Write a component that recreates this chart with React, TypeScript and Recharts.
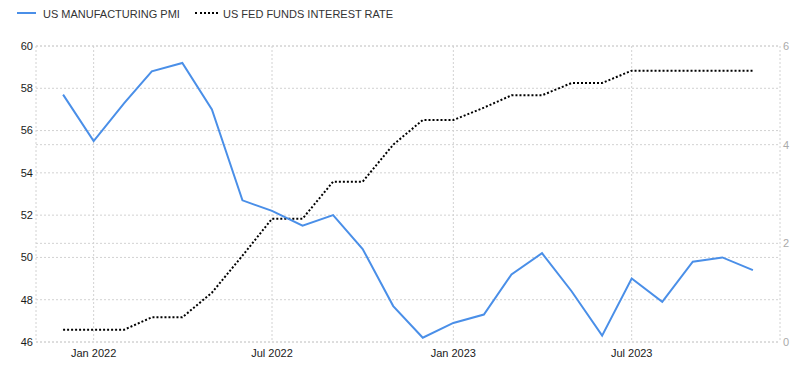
import React from "react";
import {
  ComposedChart,
  Line,
  XAxis,
  YAxis,
  CartesianGrid,
} from "recharts";

// Monthly observation dates (first of month), Dec 2021 .. Nov 2023
const months: [number, number][] = [
  [2021, 11], [2022, 0], [2022, 1], [2022, 2], [2022, 3], [2022, 4], [2022, 5],
  [2022, 6], [2022, 7], [2022, 8], [2022, 9], [2022, 10], [2022, 11],
  [2023, 0], [2023, 1], [2023, 2], [2023, 3], [2023, 4], [2023, 5],
  [2023, 6], [2023, 7], [2023, 8], [2023, 9], [2023, 10],
];

const pmi = [
  57.7, 55.5, 57.3, 58.8, 59.2, 57.0, 52.7, 52.2, 51.5, 52.0, 50.4, 47.7,
  46.2, 46.9, 47.3, 49.2, 50.2, 48.4, 46.3, 49.0, 47.9, 49.8, 50.0, 49.4,
];

const fedRate = [
  0.25, 0.25, 0.25, 0.5, 0.5, 1.0, 1.75, 2.5, 2.5, 3.25, 3.25, 4.0,
  4.5, 4.5, 4.75, 5.0, 5.0, 5.25, 5.25, 5.5, 5.5, 5.5, 5.5, 5.5,
];

const tickDates: [number, number][] = [[2022, 0], [2022, 6], [2023, 0], [2023, 6]];
const tickLabels = ["Jan 2022", "Jul 2022", "Jan 2023", "Jul 2023"];

const leftTicks = [46, 48, 50, 52, 54, 56, 58, 60];
const rightTicks = [0, 2, 4, 6];

const seriesNames = ["US MANUFACTURING PMI", "US FED FUNDS INTEREST RATE"];

const data = months.map(([y, m], i) => ({
  t: Date.UTC(y, m, 1),
  pmi: pmi[i],
  rate: fedRate[i],
}));

const xTicks = tickDates.map(([y, m]) => Date.UTC(y, m, 1));
const labelFor = (v: number) => {
  const idx = xTicks.indexOf(v);
  return idx >= 0 ? tickLabels[idx] : "";
};

const DAY = 86400000;
const PAD = 27.5 * DAY;

const FONT = "'Liberation Sans', Arial, sans-serif";
const BLUE = "#4a8fe8";

export default function App() {
  return (
    <div style={{ position: "relative", width: 811, height: 370, fontFamily: FONT }}>
      <style>{`body{margin:0}`}</style>
      <div
        style={{
          position: "absolute",
          left: 0,
          top: 0,
          height: 28,
          width: 811,
          fontSize: 11,
          color: "#333",
          zIndex: 2,
        }}
      >
        <div style={{ position: "absolute", left: 17, top: 12, width: 19, height: 0, borderTop: `2px solid ${BLUE}` }} />
        <div style={{ position: "absolute", left: 43, top: 7, lineHeight: "14px", whiteSpace: "nowrap" }}>
          {seriesNames[0]}
        </div>
        <div style={{ position: "absolute", left: 195, top: 12, width: 23, height: 0, borderTop: "2px dotted #000" }} />
        <div style={{ position: "absolute", left: 223, top: 7, lineHeight: "14px", whiteSpace: "nowrap" }}>
          {seriesNames[1]}
        </div>
      </div>
      <ComposedChart
        width={811}
        height={370}
        data={data}
        margin={{ top: 46, right: 0, bottom: 0, left: 0 }}
      >
        <CartesianGrid
          yAxisId="left"
          xAxisId="x"
          stroke="#d2d2d2"
          strokeDasharray="2 2"
          horizontal={true}
          vertical={true}
        />
        <CartesianGrid
          yAxisId="right"
          xAxisId="x"
          stroke="#d2d2d2"
          strokeDasharray="2 2"
          horizontal={true}
          vertical={false}
        />
        <XAxis
          xAxisId="x"
          dataKey="t"
          type="number"
          scale="time"
          domain={[(min: number) => min - PAD, (max: number) => max + PAD]}
          ticks={xTicks}
          tickFormatter={labelFor}
          axisLine={false}
          tickLine={false}
          tickSize={0}
          tickMargin={7}
          height={28}
          tick={{ fill: "#1a1a1a", fontSize: 11, fontFamily: FONT }}
          interval={0}
        />
        <YAxis
          yAxisId="left"
          orientation="left"
          domain={[46, 60]}
          ticks={leftTicks}
          axisLine={false}
          tickLine={false}
          tickSize={0}
          tickMargin={3}
          width={36}
          tick={{ fill: "#1a1a1a", fontSize: 11, fontFamily: FONT }}
          interval={0}
        />
        <YAxis
          yAxisId="right"
          orientation="right"
          domain={[0, 6]}
          ticks={rightTicks}
          axisLine={false}
          tickLine={false}
          tickSize={0}
          tickMargin={3}
          width={31}
          tick={{ fill: "#aaaaaa", fontSize: 11, fontFamily: FONT }}
          interval={0}
        />
        <Line
          xAxisId="x"
          yAxisId="right"
          type="linear"
          dataKey="rate"
          name={seriesNames[1]}
          stroke="#000"
          strokeWidth={2}
          strokeDasharray="2 2"
          dot={false}
          activeDot={false}
          isAnimationActive={false}
        />
        <Line
          xAxisId="x"
          yAxisId="left"
          type="linear"
          dataKey="pmi"
          name={seriesNames[0]}
          stroke={BLUE}
          strokeWidth={2}
          dot={false}
          activeDot={false}
          isAnimationActive={false}
        />
      </ComposedChart>
    </div>
  );
}
